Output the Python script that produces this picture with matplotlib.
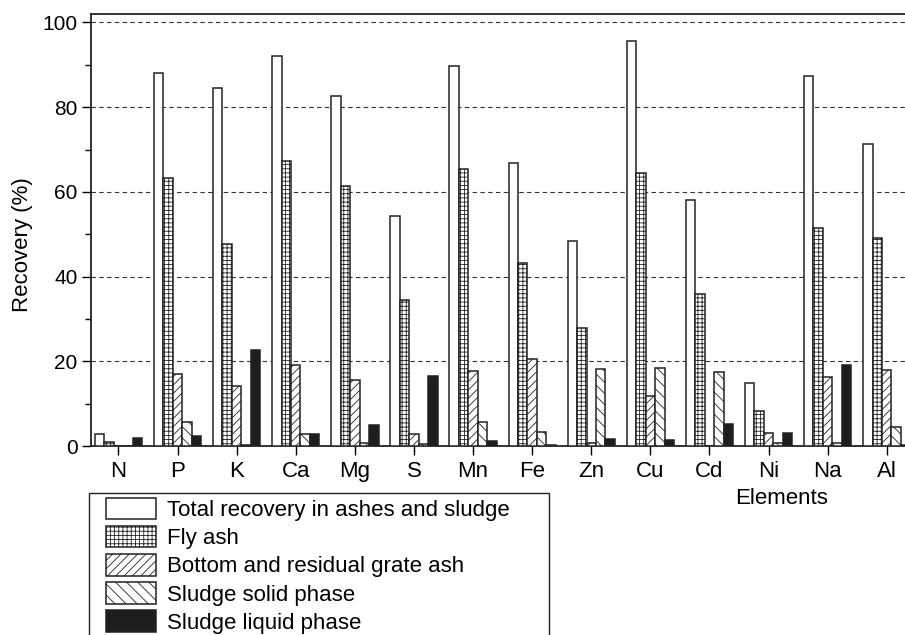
import matplotlib
matplotlib.use("Agg")
import matplotlib.pyplot as plt
from matplotlib.patches import Rectangle
import numpy as np

plt.rcParams['font.family'] = ['Liberation Sans', 'DejaVu Sans']
plt.rcParams['hatch.linewidth'] = 0.6
plt.rcParams['hatch.color'] = '#222222'

# element names on the x axis
elements = ["N", "P", "K", "Ca", "Mg", "S", "Mn", "Fe", "Zn", "Cu", "Cd", "Ni", "Na", "Al"]

# recovery values in %
total_rec = [2.8, 88.1, 84.6, 92.0, 82.6, 54.4, 89.7, 66.8, 48.4, 95.7, 58.2, 14.9, 87.4, 71.3]
fly_ash = [1.0, 63.3, 47.8, 67.2, 61.3, 34.5, 65.4, 43.1, 27.9, 64.5, 36.0, 8.3, 51.5, 49.0]
bottom_ash = [0.0, 17.0, 14.2, 19.1, 15.6, 2.8, 17.6, 20.5, 0.6, 11.8, 0.0, 3.1, 16.4, 17.9]
sludge_solid = [0.0, 5.6, 0.2, 2.8, 0.8, 0.5, 5.6, 3.2, 18.2, 18.4, 17.4, 0.8, 0.6, 4.5]
sludge_liquid = [1.9, 2.3, 22.7, 2.9, 4.9, 16.5, 1.2, 0.2, 1.7, 1.3, 5.3, 3.1, 19.2, 0.3]

series_names = ["Total recovery in ashes and sludge", "Fly ash",
                "Bottom and residual grate ash", "Sludge solid phase",
                "Sludge liquid phase"]


def plot_data():
    fig = plt.figure(figsize=(9.05, 6.35), dpi=100)
    W, H = 905.0, 635.0
    # axes box in pixels: left 90.7, bottom 446, top 14, right just past the edge
    ax = fig.add_axes([90.7 / W, (H - 446) / H, (916.3 - 90.7) / W, 432 / H])

    x = np.arange(len(elements))
    w = 0.16
    edge = '#222222'
    all_series = [total_rec, fly_ash, bottom_ash, sludge_solid, sludge_liquid]
    hatches = [None, '++++', '////', '\\\\\\', None]
    faces = ['white', 'white', 'white', 'white', '#1e1e1e']

    for i in range(5):
        ax.bar(x + (i - 2) * w, all_series[i], width=w, color=faces[i],
               edgecolor=edge, linewidth=1.1, hatch=hatches[i],
               label=series_names[i], zorder=3)

    ax.set_xlim(-0.47, 13.5)
    ax.set_ylim(0, 102)
    ax.set_xticks(x)
    ax.set_xticklabels(elements, fontsize=16)
    ax.set_yticks([0, 20, 40, 60, 80, 100])
    ax.set_yticks([10, 30, 50, 70, 90], minor=True)
    ax.tick_params(axis='y', labelsize=15, length=6.5, width=1.0, pad=3, direction='out')
    ax.tick_params(axis='y', which='minor', length=4, width=1.0)
    ax.tick_params(axis='x', length=6.5, width=1.0, pad=4, direction='out')

    # dashed horizontal grid lines at the major ticks
    for yv in [20, 40, 60, 80, 100]:
        ax.axhline(yv, color='#333333', linestyle=(0, (4, 3)), linewidth=0.8, zorder=1)

    for s in ax.spines.values():
        s.set_linewidth(1.3)
        s.set_color('#222222')

    ax.set_ylabel("Recovery (%)", fontsize=16)
    ax.yaxis.label.set_va('center')
    ax.yaxis.set_label_coords((22 - 90.7) / (916.3 - 90.7), (446 - 245) / 432.0)
    ax.set_xlabel("Elements", fontsize=16)
    ax.xaxis.label.set_va('center')
    ax.xaxis.set_label_coords((782 - 90.7) / (916.3 - 90.7), (446 - 499) / 432.0)

    # legend without frame, frame drawn as a rectangle that runs off the bottom
    leg = fig.legend(loc='upper left', bbox_to_anchor=(106 / W, 1 - 498 / H),
                     frameon=False, fontsize=16, borderpad=0, borderaxespad=0,
                     handlelength=2.25, handleheight=1.1, handletextpad=0.5,
                     labelspacing=0.22)
    frame = Rectangle((89 / W, -0.05), (549 - 89) / W, 0.05 + 1 - 493 / H,
                      transform=fig.transFigure, fill=False, edgecolor='#222222',
                      linewidth=1.0)
    fig.patches.append(frame)

    fig.savefig("out.png", dpi=100)


def main():
    plot_data()


main()
